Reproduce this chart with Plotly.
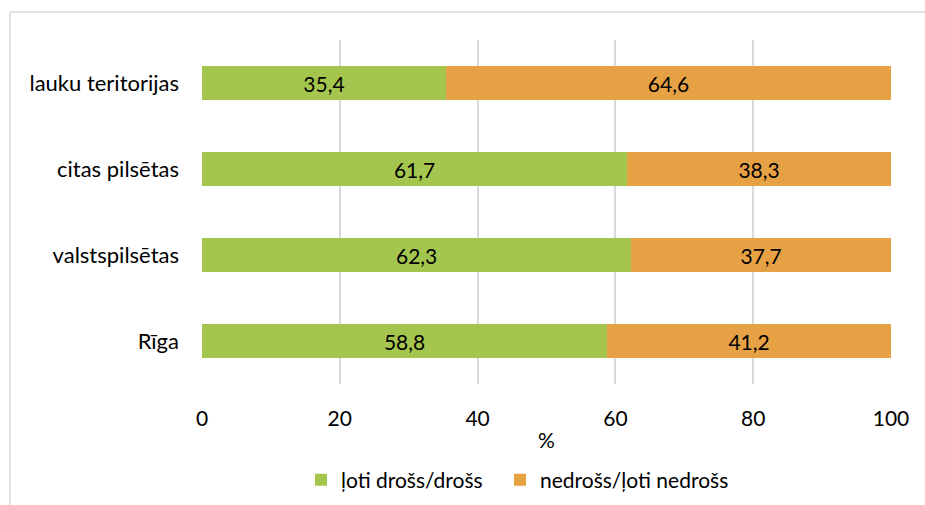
import plotly.graph_objects as go

categories = ["Rīga", "valstspilsētas", "citas pilsētas", "lauku teritorijas"]
safe = [58.8, 62.3, 61.7, 35.4]
unsafe = [41.2, 37.7, 38.3, 64.6]
series_names = ["ļoti drošs/drošs", "nedrošs/ļoti nedrošs"]
x_ticks = [0, 20, 40, 60, 80, 100]

GREEN = "#A5C64E"
ORANGE = "#E6A145"
FONT = "Lato, 'Open Sans', sans-serif"
FS = 21

def fmt(v):
    return f"{v:.1f}".replace(".", ",")

fig = go.Figure()
fig.add_trace(go.Bar(
    y=categories, x=safe, orientation="h", name=series_names[0],
    marker=dict(color=GREEN, line=dict(width=0)),
    text=[fmt(v) for v in safe], textposition="inside", insidetextanchor="middle",
    textfont=dict(color="black", size=FS, family=FONT),
    legend="legend",
))
fig.add_trace(go.Bar(
    y=categories, x=unsafe, orientation="h", name=series_names[1],
    marker=dict(color=ORANGE, line=dict(width=0)),
    text=[fmt(v) for v in unsafe], textposition="inside", insidetextanchor="middle",
    textfont=dict(color="black", size=FS, family=FONT),
    legend="legend2",
))

L, R, T, B = 202, 34, 40, 121
W, H = 925, 505
pw, ph = W - L - R, H - T - B

def px_x(p):
    return (p - L) / pw

def px_y(p):
    return (H - B - p) / ph

legend_common = dict(
    orientation="h", yanchor="middle", y=px_y(480), xanchor="left",
    font=dict(size=FS, family=FONT, color="black"),
    itemclick=False, bgcolor="rgba(0,0,0,0)",
)

fig.update_layout(
    barmode="stack",
    bargap=0.6,
    width=W, height=H,
    margin=dict(l=L, r=R, t=T, b=B, pad=0, autoexpand=False),
    paper_bgcolor="white", plot_bgcolor="white",
    font=dict(family=FONT, size=FS, color="black"),
    xaxis=dict(
        range=[0, 100], tickvals=x_ticks, ticktext=[str(t) for t in x_ticks],
        showgrid=True, gridcolor="#D9D9D9", gridwidth=1.5,
        zeroline=False, showline=False, ticks="",
        ticklabelstandoff=20,
        tickfont=dict(size=FS, family=FONT, color="black"),
        fixedrange=True,
    ),
    yaxis=dict(
        showgrid=False, zeroline=False, showline=False, ticks="",
        ticklabelstandoff=22,
        tickfont=dict(size=22, family=FONT, color="black"),
        categoryorder="array", categoryarray=categories,
        fixedrange=True,
    ),
    legend=dict(legend_common, x=px_x(301)),
    legend2=dict(legend_common, x=px_x(500)),
    showlegend=True,
    annotations=[dict(
        text="%", xref="paper", yref="paper", x=px_x(546), y=px_y(439),
        xanchor="center", yanchor="middle", showarrow=False,
        font=dict(size=FS, family=FONT, color="black"),
    )],
    shapes=[
        dict(type="line", xref="paper", yref="paper",
             x0=px_x(10), x1=px_x(926), y0=px_y(12), y1=px_y(12),
             line=dict(color="#D9D9D9", width=1.5)),
        dict(type="line", xref="paper", yref="paper",
             x0=px_x(10), x1=px_x(10), y0=px_y(12), y1=px_y(506),
             line=dict(color="#D9D9D9", width=1.5)),
    ],
)

fig.write_html(
    "out.html",
    config=dict(displayModeBar=False),
    post_script="document.body.style.margin='0';document.body.style.overflow='hidden';",
)
